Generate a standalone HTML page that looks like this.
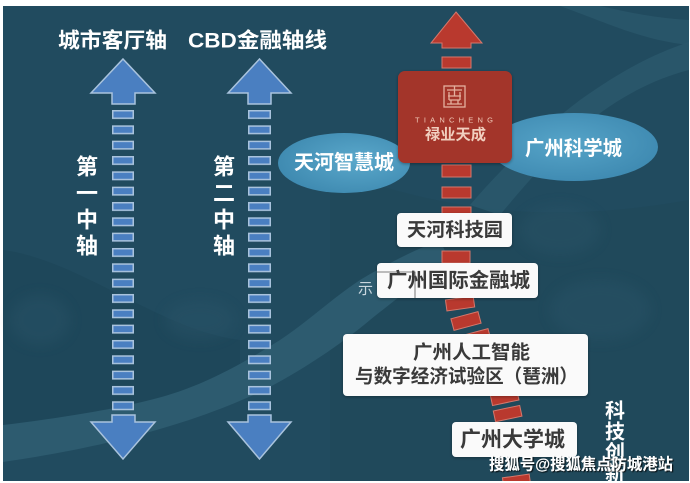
<!DOCTYPE html>
<html>
<head>
<meta charset="utf-8">
<style>
html,body{margin:0;padding:0;background:#fff;}
svg{display:block;}
text{font-family:"Liberation Sans","Noto Sans CJK SC",sans-serif;}
</style>
</head>
<body>
<svg width="690" height="483" viewBox="0 0 690 483" xmlns="http://www.w3.org/2000/svg">
<defs>
  <radialGradient id="el1" cx="0.6" cy="0.45" r="0.7">
    <stop offset="0" stop-color="#5aa8cb"/>
    <stop offset="1" stop-color="#3b86ad"/>
  </radialGradient>
  <radialGradient id="el2" cx="0.45" cy="0.45" r="0.7">
    <stop offset="0" stop-color="#56a4c8"/>
    <stop offset="1" stop-color="#3a85ad"/>
  </radialGradient>
  <filter id="sh" x="-10%" y="-10%" width="120%" height="130%">
    <feDropShadow dx="0" dy="1" stdDeviation="1.5" flood-color="#000" flood-opacity="0.35"/>
  </filter>
  <filter id="wm" x="-5%" y="-20%" width="110%" height="140%">
    <feDropShadow dx="1" dy="1" stdDeviation="0.6" flood-color="#000" flood-opacity="0.9"/>
  </filter>
  <filter id="blur"><feGaussianBlur stdDeviation="6"/></filter>
  <pattern id="dash" patternUnits="userSpaceOnUse" x="0" y="110" width="690" height="15.33">
    <rect x="112.75" y="0.75" width="20.5" height="7.5" fill="#4a7fc1" stroke="#a9c3dd" stroke-width="1.5"/>
    <rect x="248.75" y="0.75" width="21.5" height="7.5" fill="#4a7fc1" stroke="#a9c3dd" stroke-width="1.5"/>
  </pattern>
</defs>

<rect x="0" y="0" width="690" height="483" fill="#ffffff"/>
<rect x="3" y="6" width="686" height="475" fill="#214b5f"/>
<path d="M330,170 C420,200 520,230 689,200 V481 H330 Z" fill="#1f4759" opacity="0.6"/>
<path d="M3,250 C80,260 160,330 240,340 L240,400 C150,410 60,420 3,425 Z" fill="#1e4658" opacity="0.7"/>
<path d="M3,425 C60,418 110,410 150,400 C200,388 240,365 280,340 C310,320 330,300 360,280 C390,262 415,250 440,240 L450,262 C420,280 395,300 370,320 C340,345 300,372 260,392 C200,420 120,445 3,462 Z" fill="#2d5b6f"/>
<path d="M470,205 C500,170 540,130 580,100 C620,72 650,55 689,42 L689,70 C650,80 615,100 585,125 C555,150 525,185 500,215 Z" fill="#2a586c" opacity="0.85"/>
<path d="M560,6 C600,20 640,40 689,45 L689,20 C650,18 620,10 600,6 Z" fill="#2a586c" opacity="0.8"/>
<g fill="#2a5569" opacity="0.4" filter="url(#blur)">
  <ellipse cx="560" cy="230" rx="40" ry="25"/>
  <ellipse cx="600" cy="310" rx="50" ry="30"/>
  <ellipse cx="40" cy="320" rx="30" ry="25"/>
  <ellipse cx="200" cy="320" rx="35" ry="20"/>
</g>

<text x="112.5" y="41" font-size="21" font-weight="bold" fill="#ffffff" text-anchor="middle" dominant-baseline="central" textLength="109" lengthAdjust="spacingAndGlyphs">城市客厅轴</text>
<text x="257.5" y="41" font-size="21" font-weight="bold" fill="#ffffff" text-anchor="middle" dominant-baseline="central" textLength="139" lengthAdjust="spacingAndGlyphs">CBD金融轴线</text>

<g fill="#4a7fc1" stroke="#a9c3dd" stroke-width="1.5">
  <polygon points="123,59 155,93 135,93 135,104 112,104 112,93 91,93"/>
  <polygon points="112,415 135,415 135,422 155,422 123,459 91,422 112,422"/>
  <polygon points="259.5,59 291,93 271,93 271,104 248,104 248,93 228,93"/>
  <polygon points="248,415 271,415 271,422 291,422 259.5,459 228,422 248,422"/>
</g>
<rect x="0" y="110" width="690" height="301" fill="url(#dash)"/>

<g font-size="22" font-weight="bold" fill="#ffffff" text-anchor="middle" dominant-baseline="central">
  <text x="87" y="167">第</text>
  <text x="87" y="193.5">一</text>
  <text x="87" y="220">中</text>
  <text x="87" y="246">轴</text>
  <text x="224" y="167">第</text>
  <text x="224" y="193.5">二</text>
  <text x="224" y="220">中</text>
  <text x="224" y="246">轴</text>
</g>

<ellipse cx="344" cy="163" rx="66" ry="30" fill="url(#el1)"/>
<ellipse cx="574" cy="147" rx="84" ry="34" fill="url(#el2)"/>
<text x="344" y="163" font-size="20" font-weight="bold" fill="#ffffff" text-anchor="middle" dominant-baseline="central" textLength="100" lengthAdjust="spacingAndGlyphs">天河智慧城</text>
<text x="573.5" y="149" font-size="20" font-weight="bold" fill="#ffffff" text-anchor="middle" dominant-baseline="central" textLength="97" lengthAdjust="spacingAndGlyphs">广州科学城</text>

<g fill="#b9392e" stroke="#d5786c" stroke-width="1">
  <polygon points="456,12 482,43 471,43 471,48 442,48 442,43 431,43"/>
  <rect x="442" y="57" width="29" height="11"/>
  <rect x="442" y="165" width="29" height="12"/>
  <rect x="442" y="187" width="29" height="11"/>
  <rect x="442" y="207" width="29" height="11"/>
  <rect x="442" y="251" width="28" height="12"/>
  <rect x="446" y="298" width="28" height="11" transform="rotate(-8 460 303)"/>
  <rect x="452" y="315" width="28" height="12" transform="rotate(-15 466 321)"/>
  <rect x="462" y="332" width="28" height="12" transform="rotate(-15 476 338)"/>
  <rect x="491" y="392" width="27" height="11" transform="rotate(-12 504 397)"/>
  <rect x="494" y="408" width="27" height="11" transform="rotate(-12 508 413)"/>
  <rect x="500" y="435" width="27" height="11" transform="rotate(-12 513 440)"/>
  <rect x="503" y="476" width="27" height="11" transform="rotate(-8 516 481)"/>
</g>

<rect x="398" y="71" width="114" height="92" rx="7" fill="#a3342a" filter="url(#sh)"/>
<g fill="none" stroke="#e4b09e" stroke-width="1.3">
  <rect x="444" y="86" width="21" height="21"/>
  <path d="M447,90 H462 M454.5,86 V96 M448,96 H461 M449,92 V100 M460,92 V100 M449,100 H460 M451,100 V104 M458,100 V104 M447,104 H462"/>
</g>
<text x="454" y="120" font-size="7.5" fill="#f1c9b8" text-anchor="middle" dominant-baseline="central" textLength="78" lengthAdjust="spacing">TIANCHENG</text>
<text x="455.5" y="135" font-size="15" font-weight="bold" fill="#f1cfbf" text-anchor="middle" dominant-baseline="central" textLength="61" lengthAdjust="spacingAndGlyphs">禄业天成</text>

<g fill="#fafafa" filter="url(#sh)">
  <rect x="397" y="213" width="115" height="34" rx="4"/>
  <rect x="377" y="263" width="161" height="35" rx="4"/>
  <rect x="343" y="334" width="245" height="62" rx="4"/>
  <rect x="452" y="422" width="125" height="35" rx="4"/>
</g>
<g font-weight="bold" fill="#3a3a3a" text-anchor="middle" dominant-baseline="central">
  <text x="455" y="230.5" font-size="19" textLength="96" lengthAdjust="spacingAndGlyphs">天河科技园</text>
  <text x="458.5" y="281" font-size="20" textLength="143" lengthAdjust="spacingAndGlyphs">广州国际金融城</text>
  <text x="471.5" y="353" font-size="19" textLength="117" lengthAdjust="spacingAndGlyphs">广州人工智能</text>
  <text x="466.5" y="377" font-size="19" textLength="223" lengthAdjust="spacingAndGlyphs">与数字经济试验区（琶洲）</text>
  <text x="512.5" y="440" font-size="21" textLength="105" lengthAdjust="spacingAndGlyphs">广州大学城</text>
</g>

<path d="M377,272 H415 V298" fill="none" stroke="#555" stroke-width="0.8"/>
<text x="365.5" y="289" font-size="15" fill="#c9d7df" text-anchor="middle" dominant-baseline="central">示</text>

<g font-size="20" font-weight="bold" fill="#ffffff" text-anchor="middle" dominant-baseline="central">
  <text x="615" y="411.5">科</text>
  <text x="615" y="432.5">技</text>
  <text x="615" y="453">创</text>
  <text x="615" y="474">新</text>
</g>

<text x="581" y="465" font-size="16" font-weight="bold" fill="#ffffff" text-anchor="middle" dominant-baseline="central" textLength="184" lengthAdjust="spacingAndGlyphs" filter="url(#wm)">搜狐号@搜狐焦点防城港站</text>

<rect x="0" y="481" width="690" height="2" fill="#ffffff"/>
<rect x="689" y="0" width="1" height="483" fill="#ffffff"/>
</svg>
</body>
</html>
